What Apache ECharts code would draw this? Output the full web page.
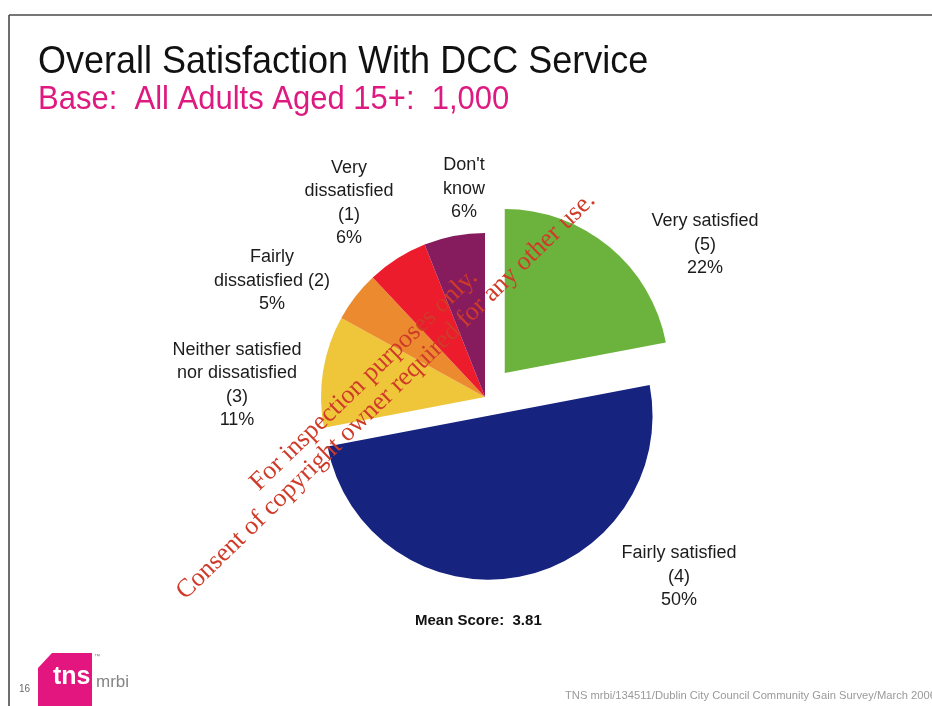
<!DOCTYPE html>
<html>
<head>
<meta charset="utf-8">
<script src="https://cdn.jsdelivr.net/npm/echarts@6/dist/echarts.min.js"></script>
<style>
  html, body { margin: 0; padding: 0; background: #ffffff; }
  #chart { width: 932px; height: 706px; }
</style>
</head>
<body>
<div id="chart"></div>
<script>
// Survey answers, clockwise from 12 o'clock
const categories = [
  'Very satisfied\n(5)',
  'Fairly satisfied\n(4)',
  'Neither satisfied\nnor dissatisfied\n(3)',
  'Fairly\ndissatisfied (2)',
  'Very\ndissatisfied\n(1)',
  "Don't\nknow"
];
const shares = [22, 50, 11, 5, 6, 6];   // % of respondents
const meanScore = 3.81;
const baseCount = '1,000';

// Styling
const sliceColors = ['#6cb33e', '#16237f', '#efc53a', '#ec8a2f', '#ec1c2d', '#861c5e'];
const labelCenters = [[705, 245], [679, 577], [237, 385], [272, 281], [349, 203], [464, 189]];
const pullOut = [31, 19, 0, 0, 0, 0];   // exploded distance per slice
const pieCenter = [485, 397];
const pieRadius = 164;
const SANS = '"Liberation Sans", Arial, Helvetica, sans-serif';
const SERIF = '"Liberation Serif", "Times New Roman", serif';
const CLEAR = 'rgba(0,0,0,0)';

const chart = echarts.init(document.getElementById('chart'), null, { renderer: 'canvas' });

// Builds one pass over the full data set in which only the slices in `visible` are painted
function slicePass(visible, selectedIdx) {
  return categories.map((name, i) => ({
    name,
    value: shares[i],
    selected: i === selectedIdx,
    itemStyle: { color: visible.includes(i) ? sliceColors[i] : CLEAR, borderWidth: 0 }
  }));
}

const pieBase = {
  type: 'pie',
  center: pieCenter,
  radius: pieRadius,
  startAngle: 90,
  clockwise: true,
  avoidLabelOverlap: false,
  emphasis: { disabled: true },
  select: { itemStyle: { borderWidth: 0 } },
  labelLine: { show: false }
};

const series = [
  // small slices in place, plus every label
  Object.assign({}, pieBase, {
    selectedMode: false,
    data: slicePass([2, 3, 4, 5], -1),
    label: {
      show: true,
      position: 'inside',
      formatter: p => p.name + '\n' + p.value + '%',
      color: '#1c1c1c',
      fontFamily: SANS,
      fontSize: 18,
      lineHeight: 23.5,
      align: 'center'
    },
    labelLayout: p => ({
      x: labelCenters[p.dataIndex][0],
      y: labelCenters[p.dataIndex][1],
      align: 'center',
      verticalAlign: 'middle'
    })
  })
];
// the two exploded slices
[1, 0].forEach(idx => {
  series.push(Object.assign({}, pieBase, {
    selectedMode: 'single',
    selectedOffset: pullOut[idx],
    silent: true,
    data: slicePass([idx], idx),
    label: { show: false }
  }));
});

const option = {
  backgroundColor: '#ffffff',
  animation: false,
  series,
  graphic: [
    // slide frame
    { type: 'line', shape: { x1: 9, y1: 15, x2: 932, y2: 15 }, style: { stroke: '#4a4a4a', lineWidth: 1.6 }, silent: true },
    { type: 'line', shape: { x1: 9, y1: 15, x2: 9, y2: 706 }, style: { stroke: '#4a4a4a', lineWidth: 1.6 }, silent: true },
    // heading
    { type: 'text', x: 38, y: 68, originX: 38, originY: 68, scaleY: 1.09, style: { text: 'Overall Satisfaction With DCC Service', fill: '#111111', font: '36px ' + SANS, verticalAlign: 'middle' }, silent: true },
    { type: 'text', x: 38, y: 108, originX: 38, originY: 108, scaleY: 1.08, style: { text: 'Base:  All Adults Aged 15+:  ' + baseCount, fill: '#de1a80', font: '31px ' + SANS, verticalAlign: 'middle' }, silent: true },
    // mean score
    { type: 'text', x: 415, y: 621, style: { text: 'Mean Score:  ' + meanScore.toFixed(2), fill: '#111111', font: 'bold 15px ' + SANS, verticalAlign: 'middle' }, silent: true },
    // inspection watermark, stamped over the chart
    { type: 'text', z: 100, x: 364, y: 380, rotation: Math.PI / 4 - 0.015, style: { text: 'For inspection purposes only.', fill: '#cf3b28', font: '26px ' + SERIF, align: 'center', verticalAlign: 'middle' }, silent: true },
    { type: 'text', z: 100, x: 386, y: 396, rotation: Math.PI / 4 - 0.015, style: { text: 'Consent of copyright owner required for any other use.', fill: '#cf3b28', font: '26px ' + SERIF, align: 'center', verticalAlign: 'middle' }, silent: true },
    // footer: page number, logo, source line
    { type: 'text', x: 19, y: 689, style: { text: '16', fill: '#6a6a6a', font: '10px ' + SANS, verticalAlign: 'middle' }, silent: true },
    { type: 'polygon', shape: { points: [[52, 653], [92, 653], [92, 706], [38, 706], [38, 668]] }, style: { fill: '#e3157f' }, silent: true },
    { type: 'text', x: 53, y: 690, style: { text: 'tns', fill: '#ffffff', font: 'bold 25px ' + SANS, verticalAlign: 'bottom' }, silent: true },
    { type: 'text', x: 94, y: 656, style: { text: '™', fill: '#777777', font: '6px ' + SANS, verticalAlign: 'middle' }, silent: true },
    { type: 'text', x: 96, y: 691, style: { text: 'mrbi', fill: '#858585', font: '17px "Liberation Sans Narrow", ' + SANS, verticalAlign: 'bottom' }, silent: true },
    { type: 'text', x: 565, y: 696, style: { text: 'TNS mrbi/134511/Dublin City Council Community Gain Survey/March 2006', fill: '#9a9a9a', font: '11.2px ' + SANS, verticalAlign: 'middle' }, silent: true }
  ]
};

chart.setOption(option);
</script>
</body>
</html>
